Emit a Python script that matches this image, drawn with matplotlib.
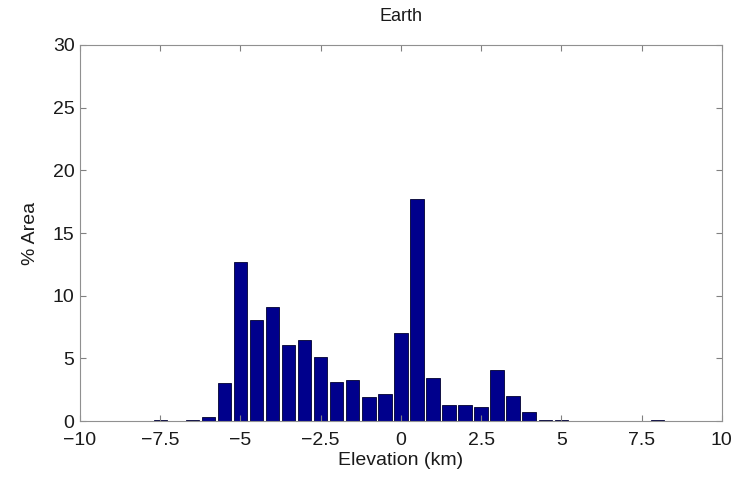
import numpy as np
import matplotlib.pyplot as plt

plt.rcParams['font.family'] = ['Liberation Sans', 'DejaVu Sans']

# bin centres (km) and % area per bin
elevation = [-8.0, -7.5, -7.0, -6.5, -6.0, -5.5, -5.0, -4.5, -4.0, -3.5, -3.0,
             -2.5, -2.0, -1.5, -1.0, -0.5, 0.0, 0.5, 1.0, 1.5, 2.0, 2.5,
             3.0, 3.5, 4.0, 4.5, 5.0, 5.5, 6.0, 6.5, 7.0, 7.5, 8.0]
area = [0.02, 0.05, 0.04, 0.06, 0.35, 3.05, 12.7, 8.05, 9.1, 6.1, 6.5,
        5.1, 3.15, 3.3, 1.9, 2.15, 7.0, 17.7, 3.4, 1.28, 1.28, 1.15,
        4.05, 2.0, 0.7, 0.05, 0.12, 0.03, 0.03, 0.02, 0.03, 0.02, 0.06]

xticks = [-10, -7.5, -5, -2.5, 0, 2.5, 5, 7.5, 10]
xticklabels = ['\u221210', '\u22127.5', '\u22125', '\u22122.5', '0', '2.5', '5', '7.5', '10']
yticks = [0, 5, 10, 15, 20, 25, 30]

fig = plt.figure(figsize=(7.41, 4.78), dpi=100)
ax = fig.add_axes([0.108, 0.119, 0.866, 0.787])

ax.bar(elevation, area, width=0.42, color='#00008c', edgecolor='#000030', linewidth=0.6)

ax.set_xlim(-10, 10)
ax.set_ylim(0, 30)
ax.set_xticks(xticks)
ax.set_xticklabels(xticklabels)
ax.set_yticks(yticks)
ax.tick_params(direction='in', top=True, right=True, labelsize=14, colors='#808080',
               labelcolor='#1a1a1a', length=4)
ax.tick_params(axis='x', pad=8)
ax.tick_params(axis='y', pad=4)
for s in ax.spines.values():
    s.set_color('#909090')

ax.set_xlabel('Elevation (km)', fontsize=14, color='#1a1a1a', labelpad=2)
ax.set_ylabel('% Area', fontsize=14, color='#1a1a1a', labelpad=10)
ax.set_title('Earth', fontsize=13, color='#1a1a1a', pad=17)

fig.savefig('out.png', dpi=100)
